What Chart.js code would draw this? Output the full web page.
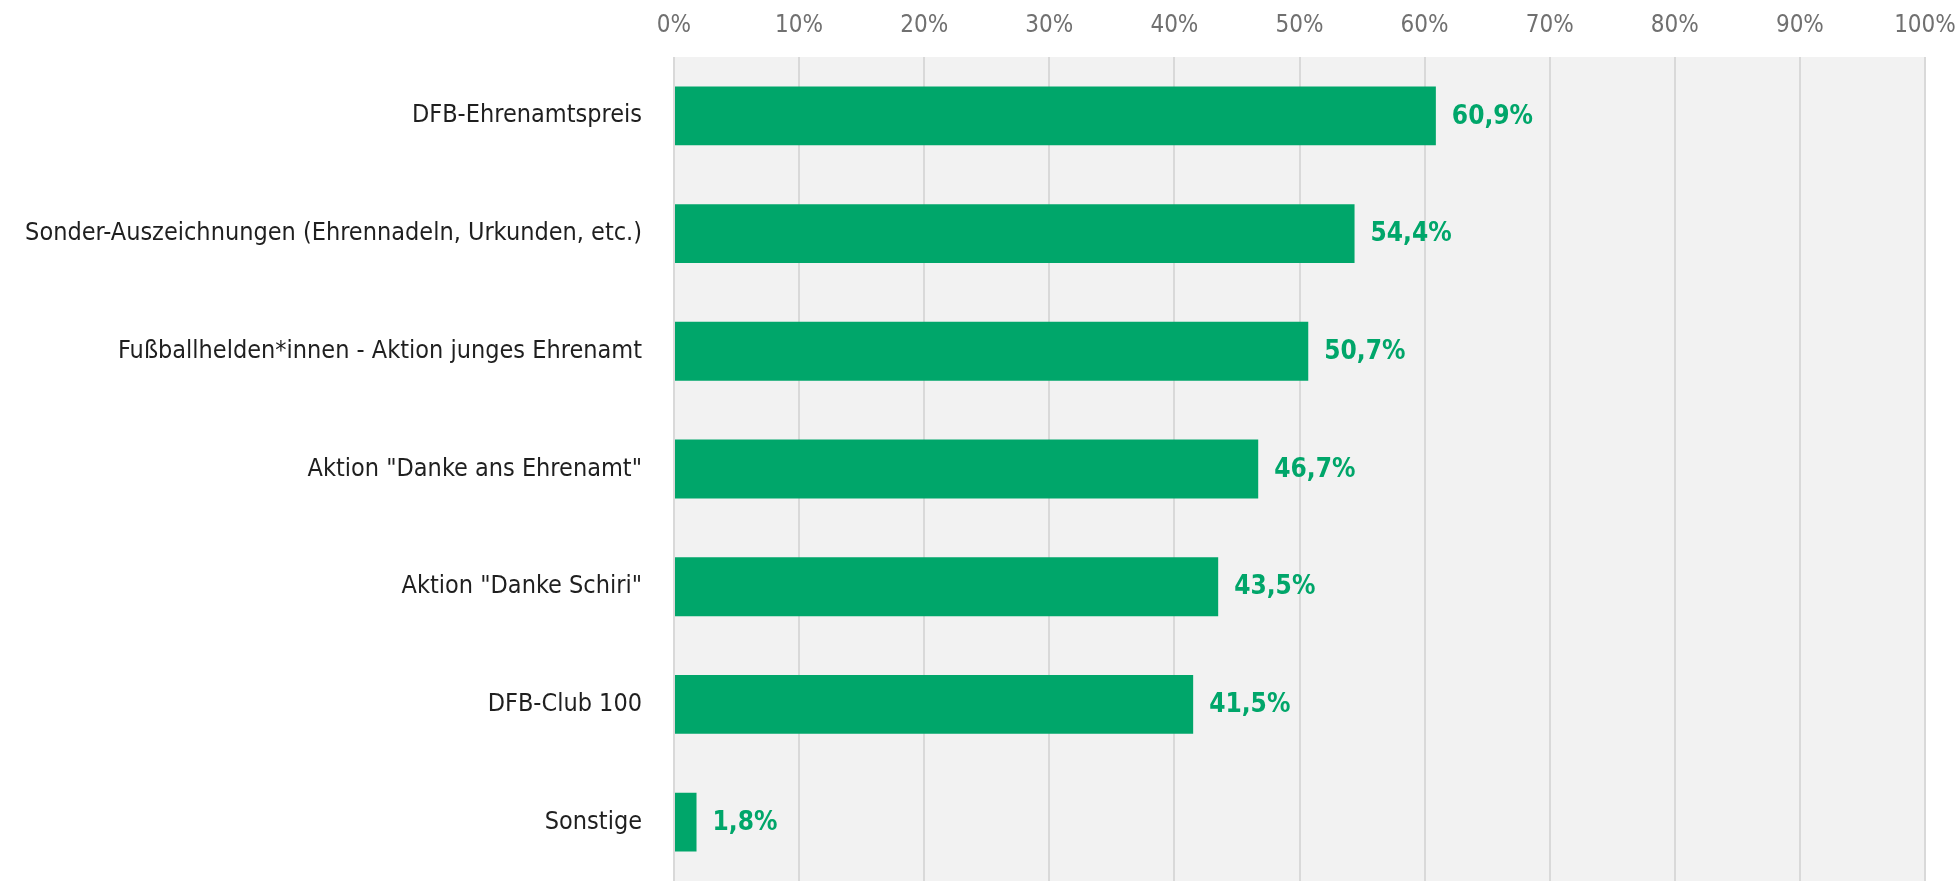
<!DOCTYPE html>
<html>
<head>
<meta charset="utf-8">
<script src="https://cdn.jsdelivr.net/npm/chart.js@4"></script>
<style>
html,body{margin:0;padding:0;background:#fff;}
#wrap{width:1957px;height:881px;position:relative;}
</style>
</head>
<body>
<div id="wrap"><canvas id="c" width="1957" height="881"></canvas></div>
<script>
const categories = [
  'DFB-Ehrenamtspreis',
  'Sonder-Auszeichnungen (Ehrennadeln, Urkunden, etc.)',
  'Fußballhelden*innen - Aktion junges Ehrenamt',
  'Aktion "Danke ans Ehrenamt"',
  'Aktion "Danke Schiri"',
  'DFB-Club 100',
  'Sonstige'
];
const values = [60.9, 54.4, 50.7, 46.7, 43.5, 41.5, 1.8];
const xTicks = [0, 10, 20, 30, 40, 50, 60, 70, 80, 90, 100];

const FAMILY = "'Liberation Sans Narrow', 'DejaVu Sans Condensed', 'Arial Narrow', sans-serif";
const GREEN = '#00A66A';

const bgPlugin = {
  id: 'bg',
  beforeDraw(chart) {
    const {ctx, chartArea: a} = chart;
    ctx.save();
    ctx.fillStyle = '#F2F2F2';
    ctx.fillRect(a.left, a.top, a.right - a.left, a.bottom - a.top);
    ctx.restore();
  }
};
const labelPlugin = {
  id: 'vlabels',
  afterDatasetsDraw(chart) {
    const {ctx} = chart;
    const meta = chart.getDatasetMeta(0);
    ctx.save();
    ctx.fillStyle = GREEN;
    ctx.font = 'bold 26px ' + FAMILY;
    ctx.textAlign = 'left';
    ctx.textBaseline = 'middle';
    meta.data.forEach((bar, i) => {
      const txt = values[i].toFixed(1).replace('.', ',') + '%';
      ctx.fillText(txt, bar.x + 16, bar.y + 1);
    });
    ctx.restore();
  }
};

new Chart(document.getElementById('c'), {
  type: 'bar',
  data: {
    labels: categories,
    datasets: [{
      data: values,
      backgroundColor: GREEN,
      borderWidth: 0,
      barPercentage: 0.5,
      categoryPercentage: 1.0
    }]
  },
  options: {
    indexAxis: 'y',
    responsive: false,
    animation: false,
    devicePixelRatio: 1,
    layout: {autoPadding: false, padding: {left: 0, right: 32, top: 0, bottom: 0}},
    plugins: {legend: {display: false}, tooltip: {enabled: false}},
    scales: {
      x: {
        position: 'top',
        min: 0, max: 100,
        afterBuildTicks(scale) { scale.ticks = xTicks.map(v => ({value: v})); },
        afterFit(scale) {
          scale.height = 57;
          scale.paddingLeft = 0; scale.paddingRight = 0;
          scale.paddingTop = 0; scale.paddingBottom = 0;
        },
        grid: {color: '#D9D9D9', lineWidth: 2, drawTicks: false},
        border: {display: false},
        ticks: {
          padding: 17,
          color: '#707070',
          font: {family: FAMILY, size: 24},
          callback: v => v + '%'
        }
      },
      y: {
        afterFit(scale) {
          scale.width = 674;
          scale.paddingLeft = 0; scale.paddingRight = 0;
          scale.paddingTop = 0; scale.paddingBottom = 0;
        },
        grid: {display: false, drawTicks: false},
        border: {display: false},
        ticks: {
          padding: 32,
          color: '#1f1f1f',
          font: {family: FAMILY, size: 25}
        }
      }
    }
  },
  plugins: [bgPlugin, labelPlugin]
});
</script>
</body>
</html>
